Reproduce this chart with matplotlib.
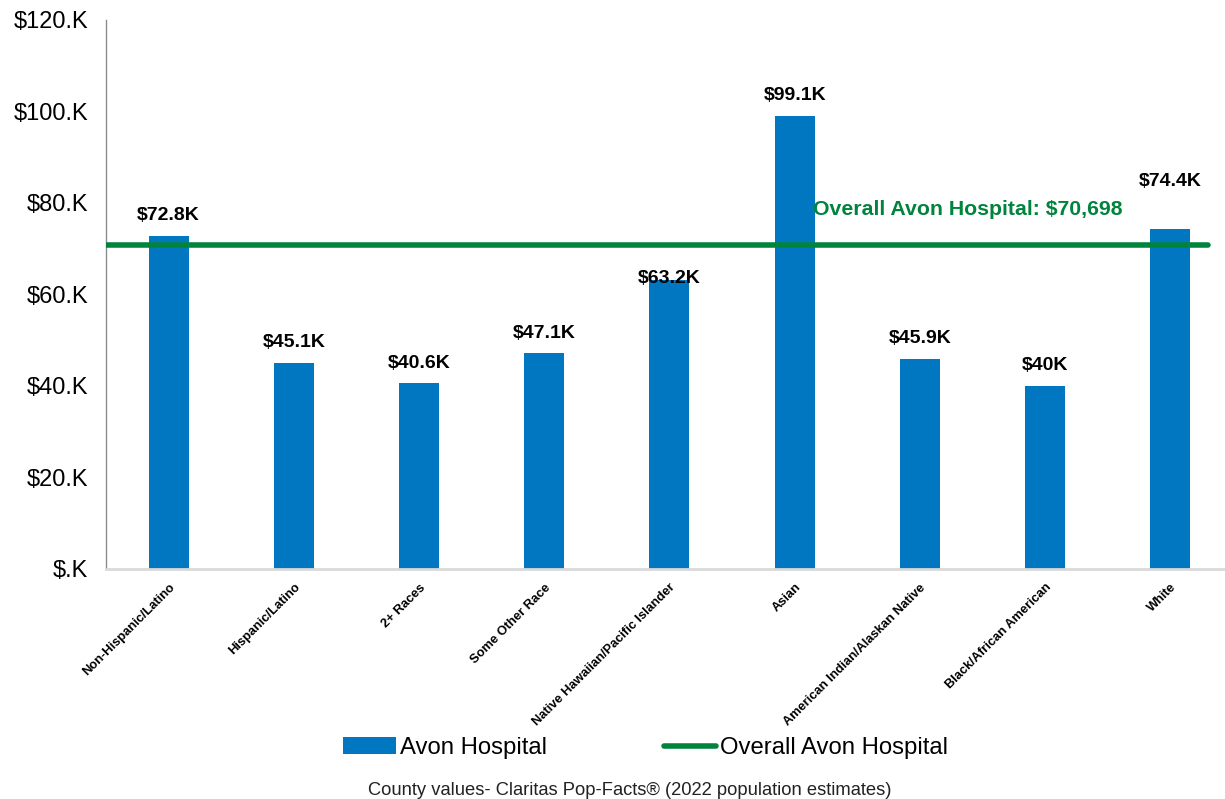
"""Median household income by race/ethnicity for Avon Hospital."""

import matplotlib.pyplot as plt
from matplotlib.ticker import FuncFormatter

plt.rcParams["font.family"] = ["Liberation Sans", "DejaVu Sans"]

categories = [
    "Non-Hispanic/Latino",
    "Hispanic/Latino",
    "2+ Races",
    "Some Other Race",
    "Native Hawaiian/Pacific Islander",
    "Asian",
    "American Indian/Alaskan Native",
    "Black/African American",
    "White",
]
income = [72800, 45100, 40600, 47100, 63200, 99100, 45900, 40000, 74400]
value_labels = ["$72.8K", "$45.1K", "$40.6K", "$47.1K", "$63.2K", "$99.1K", "$45.9K", "$40K", "$74.4K"]
overall_income = 70698
y_ticks = [0, 20000, 40000, 60000, 80000, 100000, 120000]

BAR_BLUE = "#0077C0"
LINE_GREEN = "#00843D"

# vertical pixel offset of each value label above its bar
label_lift = [20, 20, 20, 20, 1, 20, 20, 20, 47]

fig = plt.figure(figsize=(12.25, 7.99), dpi=100)
# plot area runs slightly past the right edge of the canvas
ax = fig.add_axes([0.0865, 0.288, 0.92, 0.687])

xs = range(len(categories))
bars = ax.bar(xs, income, width=0.32, color=BAR_BLUE, label="Avon Hospital", zorder=2)
overall = ax.axhline(overall_income, xmin=0, xmax=0.978, color=LINE_GREEN, linewidth=4,
                     solid_capstyle="round", label="Overall Avon Hospital", zorder=3)

for bar, text, lift in zip(bars, value_labels, label_lift):
    ax.annotate(text, (bar.get_x() + bar.get_width() / 2, bar.get_height()),
                xytext=(0, lift), textcoords="offset pixels",
                ha="center", va="center", fontsize=14, fontweight="bold", zorder=4)

ax.text(7.62, 78600, f"Overall Avon Hospital: ${overall_income:,}", ha="right", va="center",
        fontsize=15.3, fontweight="bold", color=LINE_GREEN)

ax.set_xlim(-0.5, len(categories) - 0.5)
ax.set_ylim(0, 120000)
ax.set_yticks(y_ticks)
ax.yaxis.set_major_formatter(FuncFormatter(lambda v, _: f"${int(v // 1000) if v else ''}.K"))
ax.tick_params(axis="y", length=0, labelsize=17, pad=13)
ax.set_xticks(list(xs))
ax.set_xticklabels(categories, rotation=45, ha="right", rotation_mode="anchor",
                   fontsize=9.3, fontweight="bold")
ax.tick_params(axis="x", length=0, pad=9)

for side in ("top", "right"):
    ax.spines[side].set_visible(False)
ax.spines["left"].set_color("#8c8c8c")
ax.spines["left"].set_linewidth(1)
ax.spines["bottom"].set_color("#d9d9d9")
ax.spines["bottom"].set_linewidth(2)

fig.legend([bars, overall], ["Avon Hospital", "Overall Avon Hospital"], loc="center",
           bbox_to_anchor=(0.527, 0.064), ncol=2, frameon=False, fontsize=17.2,
           handlelength=2.2, handletextpad=0.15, columnspacing=4.9)

fig.text(0.514, 0.011, "County values- Claritas Pop-Facts® (2022 population estimates)",
         ha="center", va="center", fontsize=13.2, color="#222222")

fig.savefig("out.png", dpi=100)
